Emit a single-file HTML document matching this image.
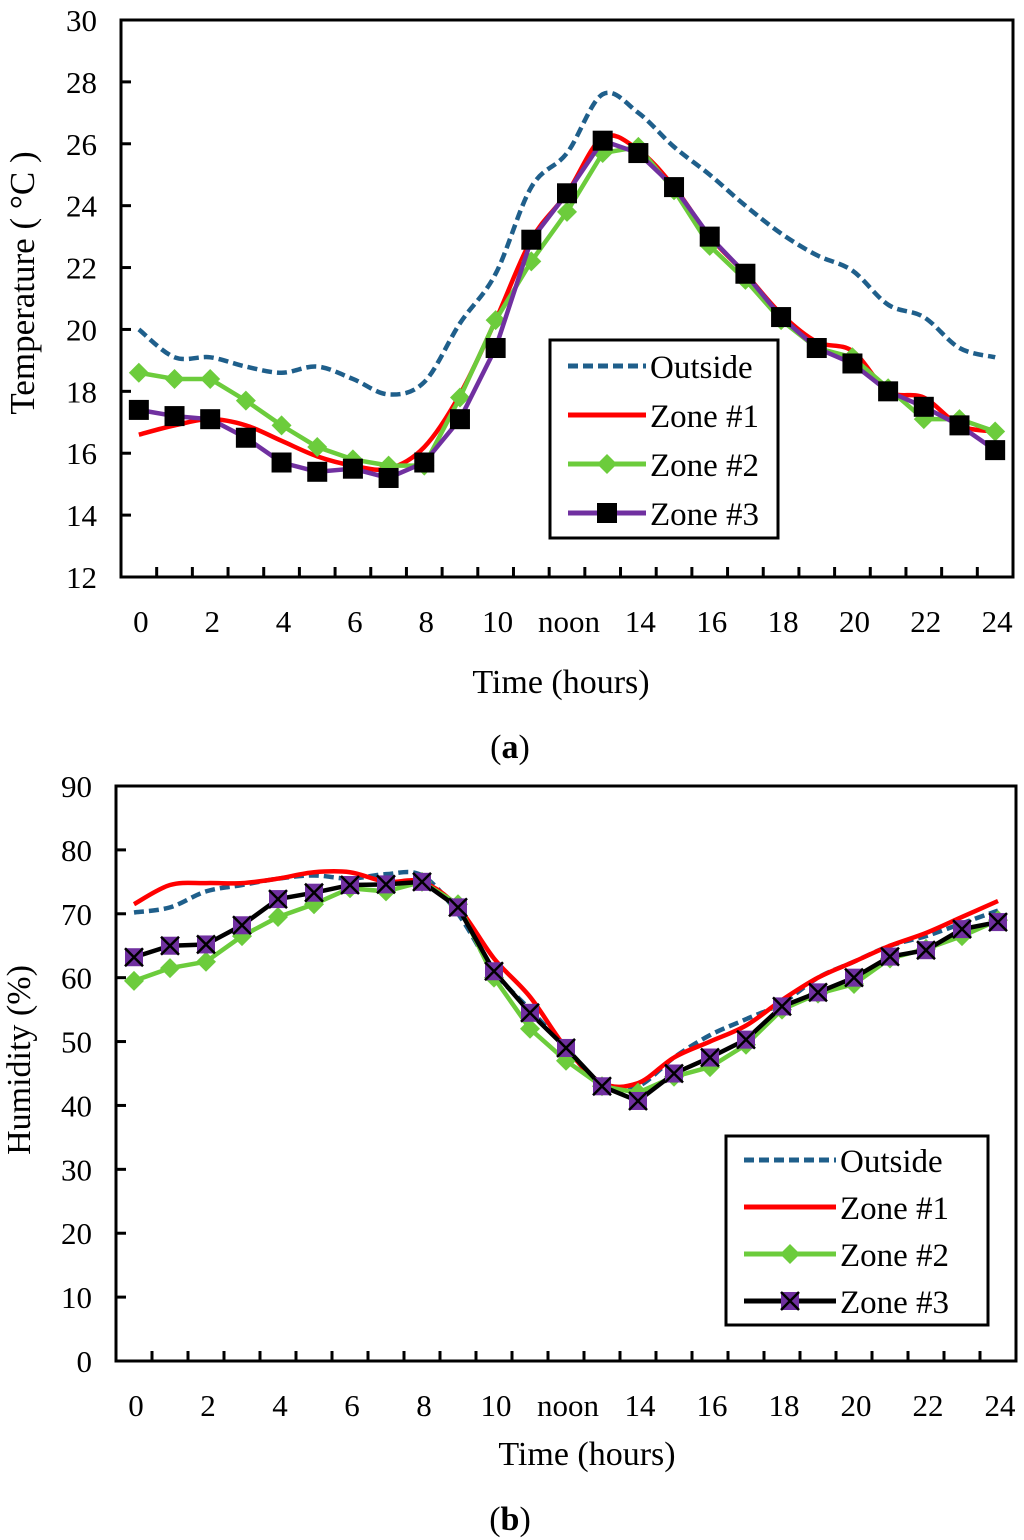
<!DOCTYPE html>
<html><head><meta charset="utf-8"><style>
html,body{margin:0;padding:0;background:#fff;}
svg{display:block;font-family:"Liberation Serif",serif;}
</style></head><body>
<svg id="svg" width="1024" height="1540" viewBox="0 0 1024 1540" xmlns="http://www.w3.org/2000/svg"></svg>
<script>
const hours = ["0","1","2","3","4","5","6","7","8","9","10","11","noon","13","14","15","16","17","18","19","20","21","22","23","24"];
const tempTicks = [12,14,16,18,20,22,24,26,28,30];
const humTicks = [0,10,20,30,40,50,60,70,80,90];
const tempOutside = [20.0,19.1,19.1,18.8,18.6,18.8,18.4,17.9,18.3,20.2,21.8,24.6,25.7,27.6,27.0,25.9,25.0,24.0,23.1,22.4,21.9,20.8,20.4,19.4,19.1];
const tempZone1 = [16.6,16.9,17.1,16.9,16.4,15.9,15.6,15.5,16.2,17.9,20.3,22.9,24.4,26.2,25.8,24.6,23.0,21.8,20.5,19.6,19.3,18.0,17.8,16.9,16.7];
const tempZone2 = [18.6,18.4,18.4,17.7,16.9,16.2,15.8,15.6,15.6,17.8,20.3,22.2,23.8,25.7,25.9,24.5,22.7,21.6,20.3,19.4,19.1,18.1,17.1,17.1,16.7];
const tempZone3 = [17.4,17.2,17.1,16.5,15.7,15.4,15.5,15.2,15.7,17.1,19.4,22.9,24.4,26.1,25.7,24.6,23.0,21.8,20.4,19.4,18.9,18.0,17.5,16.9,16.1];
const humOutside = [70.2,71,73.5,74.5,75.5,76,75.5,76.2,76,70,61,55,49,43,43,47.5,51,53.5,56,60,62.5,65,66.5,68.5,70.5];
const humZone1 = [71.5,74.5,74.8,74.8,75.5,76.5,76.5,75,75,71,63,57,49,43.5,43.5,47.5,50,52.5,56.5,60,62.5,65,67,69.5,72];
const humZone2 = [59.5,61.5,62.5,66.5,69.5,71.5,74,73.5,75,71.5,60,52,47,43,42,44.5,46,49.5,55,57.5,59,63,64.5,66.5,69];
const humZone3 = [63.2,65,65.2,68.2,72.3,73.3,74.5,74.6,75,71,61,54.5,49,43,40.7,45,47.5,50.3,55.5,57.7,60,63.3,64.3,67.6,68.7];

const NS="http://www.w3.org/2000/svg";
const svg=document.getElementById('svg');
function mk(tag,attrs,parent){const e=document.createElementNS(NS,tag);for(const k in attrs)e.setAttribute(k,attrs[k]);(parent||svg).appendChild(e);return e;}
function smooth(pts){let d=`M${pts[0][0]},${pts[0][1]}`;for(let i=0;i<pts.length-1;i++){const p0=pts[i-1]||pts[i],p1=pts[i],p2=pts[i+1],p3=pts[i+2]||p2;const c1=[p1[0]+(p2[0]-p0[0])/6,p1[1]+(p2[1]-p0[1])/6],c2=[p2[0]-(p3[0]-p1[0])/6,p2[1]-(p3[1]-p1[1])/6];d+=` C${c1[0]},${c1[1]} ${c2[0]},${c2[1]} ${p2[0]},${p2[1]}`;}return d;}
function diamond(g,x,y,c,s){return mk('polygon',{points:`${x},${y-s} ${x+s},${y} ${x},${y+s} ${x-s},${y}`,fill:c},g);}
function square(g,x,y,c,s){return mk('rect',{x:x-s,y:y-s,width:2*s,height:2*s,fill:c},g);}
function xsq(g,x,y,s){mk('rect',{x:x-s,y:y-s,width:2*s,height:2*s,fill:'#7030a0'},g);mk('path',{d:`M${x-s},${y-s}L${x+s},${y+s}M${x+s},${y-s}L${x-s},${y+s}`,stroke:'#000','stroke-width':2.5},g);}

function chart(cfg){
  const {left,top,right,bottom,ymin,ymax,ticks,name}=cfg;
  const band=(right-left)/hours.length;
  const X=i=>left+(i+0.5)*band;
  const Y=v=>bottom-(v-ymin)/(ymax-ymin)*(bottom-top);
  const g=mk('g',{});
  
  
  const box=mk('rect',{x:left,y:top,width:right-left,height:bottom-top,fill:'none',stroke:'#000','stroke-width':3},g);
  
  
  ticks.forEach(t=>{
    mk('line',{x1:left,x2:left+10,y1:Y(t),y2:Y(t),stroke:'#000','stroke-width':3},g);
    const tx=mk('text',{x:left-24,y:Y(t)+11,'text-anchor':'end','font-size':31},g);
    tx.textContent=t;
    
    
  });
  for(let i=1;i<hours.length;i++){mk('line',{x1:left+i*band,x2:left+i*band,y1:bottom,y2:bottom-10,stroke:'#000','stroke-width':3},g);}
  hours.forEach((h,i)=>{
    if(i%2!==0&&h!=="noon")return;
    const tx=mk('text',{x:X(i)+2,y:bottom+55,'text-anchor':'middle','font-size':31},g);
    tx.textContent=h;
    
    
  });
  const xt=mk('text',{x:cfg.xtx,y:cfg.xty,'text-anchor':'middle','font-size':34},g);
  xt.textContent='Time (hours)';
  
  
  const yt=mk('text',{x:0,y:0,'text-anchor':'middle','font-size':cfg.yfs,transform:`translate(${cfg.ytx},${cfg.yty}) rotate(-90)`},g);
  yt.textContent=cfg.ytitle;
  
  
  cfg.series.forEach(s=>{
    const sg=mk('g',{},g);
    
    
    const pts=s.data.map((v,i)=>[X(i),Y(v)]);
    const p=mk('path',{d:s.smooth?smooth(pts):'M'+pts.map(p=>p.join(',')).join('L'),fill:'none',stroke:s.color,'stroke-width':s.w||4.5,'stroke-dasharray':s.dash||'none','stroke-linejoin':'round'},sg);
    
    
    if(s.marker)pts.forEach(q=>s.marker(sg,q[0],q[1]));
  });
  const L=cfg.legend;
  const lg=mk('g',{},g);
  
  
  mk('rect',{x:L.x,y:L.y,width:L.w,height:L.h,fill:'#fff',stroke:'#000','stroke-width':3},lg);
  cfg.series.forEach((s,k)=>{
    const cy=L.y+L.first+k*L.step;
    const eg=mk('g',{},lg);
    
    
    mk('line',{x1:L.x+18,x2:L.x+L.lw,y1:cy,y2:cy,stroke:s.color,'stroke-width':s.w||5,'stroke-dasharray':s.dash||'none'},eg);
    if(s.marker)s.marker(eg,L.x+18+(L.lw-18)/2,cy);
    const t=mk('text',{x:L.x+L.lw+4,y:cy+12,'font-size':33},eg);
    t.textContent=s.label;
  });
}

chart({name:'temperature-chart',left:121,top:20,right:1013,bottom:577,ymin:12,ymax:30,ticks:tempTicks,
  xtx:561,xty:693,ytx:34,yty:283,yfs:35,ytitle:'Temperature ( °C )',
  legend:{x:550,y:340,w:228,h:198,first:26,step:49,lw:96},
  series:[
    {name:'outside-series',label:'Outside',data:tempOutside,color:'#1f5f8b',dash:'10,5',smooth:true},
    {name:'zone1-series',label:'Zone #1',data:tempZone1,color:'#ff0000',smooth:true},
    {name:'zone2-series',label:'Zone #2',data:tempZone2,color:'#6ccc3c',marker:(g,x,y)=>diamond(g,x,y,'#6ccc3c',10)},
    {name:'zone3-series',label:'Zone #3',data:tempZone3,color:'#7030a0',marker:(g,x,y)=>square(g,x,y,'#000',10)}
  ]});
chart({name:'humidity-chart',left:116,top:786,right:1016,bottom:1361,ymin:0,ymax:90,ticks:humTicks,
  xtx:587,xty:1465,ytx:30,yty:1060,yfs:34,ytitle:'Humidity (%)',
  legend:{x:726,y:1136,w:262,h:189,first:24,step:47,lw:110},
  series:[
    {name:'outside-series',label:'Outside',data:humOutside,color:'#1f5f8b',dash:'10,5',smooth:true},
    {name:'zone1-series',label:'Zone #1',data:humZone1,color:'#ff0000',smooth:true},
    {name:'zone2-series',label:'Zone #2',data:humZone2,color:'#6ccc3c',marker:(g,x,y)=>diamond(g,x,y,'#6ccc3c',10)},
    {name:'zone3-series',label:'Zone #3',data:humZone3,color:'#000',marker:(g,x,y)=>xsq(g,x,y,9)}
  ]});
const a=mk('text',{x:510,y:758,'text-anchor':'middle','font-size':34});
a.innerHTML='(<tspan font-weight="bold">a</tspan>)';


const b=mk('text',{x:510,y:1530,'text-anchor':'middle','font-size':34});
b.innerHTML='(<tspan font-weight="bold">b</tspan>)';


</script>
</body></html>
